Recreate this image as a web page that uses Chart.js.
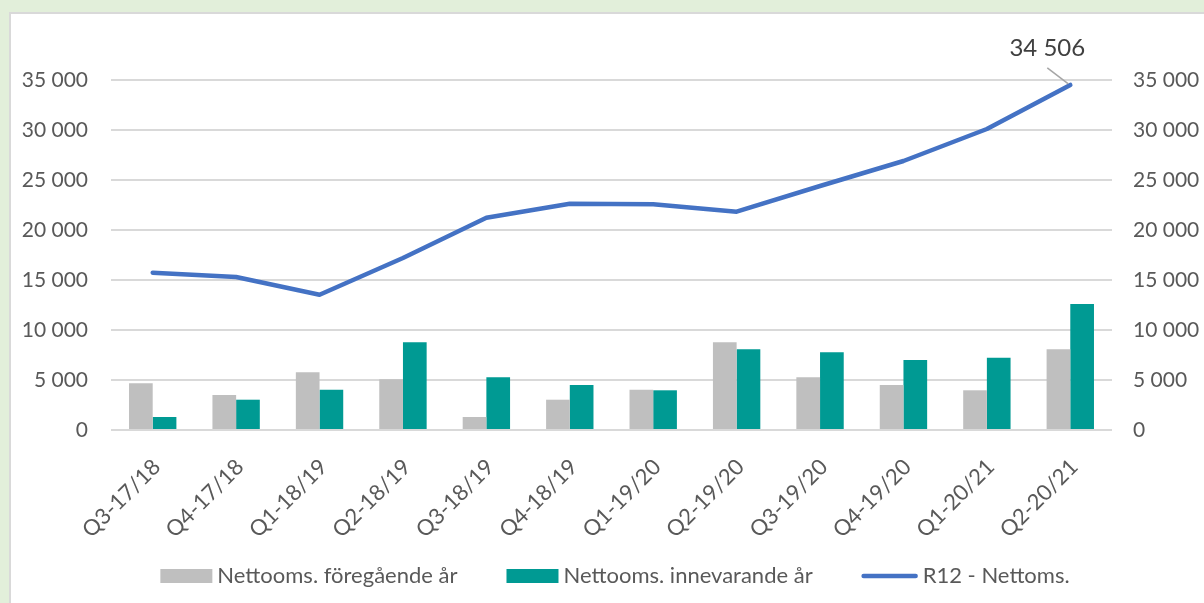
<!DOCTYPE html>
<html>
<head>
<meta charset="utf-8">
<script src="https://cdn.jsdelivr.net/npm/chart.js@4/dist/chart.umd.min.js"></script>
<style>
  html, body { margin: 0; padding: 0; background: #e2efda; width: 1204px; height: 603px; overflow: hidden; }
  #panel { position: absolute; left: 9px; top: 12px; right: 0; bottom: 0; background: #fff;
           border-left: 2px solid #d9d9d9; border-top: 2px solid #d9d9d9; }
  #wrap { position: absolute; left: 0; top: 0; width: 1204px; height: 603px; }
</style>
</head>
<body>
<div id="panel"></div>
<div id="wrap"><canvas id="c"></canvas></div>
<script>
const categories = ['Q3-17/18','Q4-17/18','Q1-18/19','Q2-18/19','Q3-18/19','Q4-18/19','Q1-19/20','Q2-19/20','Q3-19/20','Q4-19/20','Q1-20/21','Q2-20/21'];
const prevYear = [4670, 3500, 5770, 5070, 1300, 3030, 4030, 8770, 5270, 4500, 3970, 8070];
const currYear = [1300, 3030, 4030, 8770, 5270, 4500, 3970, 8070, 7770, 7000, 7230, 12600];
const r12 = [15730, 15300, 13530, 17200, 21230, 22630, 22570, 21830, 24400, 26900, 30100, 34506];
const seriesNames = ['Nettooms. föregående år', 'Nettooms. innevarande år', 'R12 - Nettoms.'];
const yTicks = [0, 5000, 10000, 15000, 20000, 25000, 30000, 35000];

const FONT = 'Lato';
const TXT = '#595959';
function fmt(v) { return String(Math.round(v)).replace(/\B(?=(\d{3})+(?!\d))/g, ' '); }

const lastLabel = {
  id: 'lastLabel',
  afterDatasetsDraw(chart) {
    const meta = chart.getDatasetMeta(2);
    const pt = meta.data[meta.data.length - 1];
    const ctx = chart.ctx;
    const x = pt.x, y = pt.y;
    ctx.save();
    ctx.strokeStyle = '#a6a6a6';
    ctx.lineWidth = 1.5;
    ctx.beginPath();
    ctx.moveTo(x - 23, y - 17);
    ctx.lineTo(x - 2, y - 1);
    ctx.stroke();
    ctx.fillStyle = '#404040';
    ctx.font = '24px ' + FONT;
    ctx.textAlign = 'center';
    ctx.textBaseline = 'middle';
    ctx.fillText(fmt(r12[r12.length - 1]), x - 23, y - 37);
    ctx.restore();
  }
};

// legend drawn from the chart's own datasets
const bottomLegend = {
  id: 'bottomLegend',
  afterDraw(chart) {
    const ctx = chart.ctx;
    const ds = chart.data.datasets;
    const cy = 576, centerX = 615;
    const markerW = [52, 52, 56], gapText = 5, gapItem = 49;
    ctx.save();
    ctx.font = '22px ' + FONT;
    const widths = ds.map(d => ctx.measureText(d.label).width);
    let total = 0;
    ds.forEach((d, i) => { total += markerW[i] + gapText + widths[i] + (i < ds.length - 1 ? gapItem : 0); });
    let x = centerX - total / 2;
    ds.forEach((d, i) => {
      if (d.type === 'line') {
        ctx.strokeStyle = d.borderColor;
        ctx.lineWidth = d.borderWidth;
        ctx.lineCap = 'round';
        ctx.beginPath();
        ctx.moveTo(x + 2, cy);
        ctx.lineTo(x + markerW[i] - 2, cy);
        ctx.stroke();
      } else {
        ctx.fillStyle = d.backgroundColor;
        ctx.fillRect(x, cy - 7, markerW[i], 14);
      }
      x += markerW[i] + gapText;
      ctx.fillStyle = TXT;
      ctx.textAlign = 'left';
      ctx.textBaseline = 'middle';
      ctx.fillText(d.label, x, cy);
      x += widths[i] + gapItem;
    });
    ctx.restore();
  }
};

new Chart(document.getElementById('c'), {
  type: 'bar',
  data: {
    labels: categories,
    datasets: [
      { label: seriesNames[0], data: prevYear, backgroundColor: '#bfbfbf', borderWidth: 0,
        categoryPercentage: 0.568, barPercentage: 1, yAxisID: 'y' },
      { label: seriesNames[1], data: currYear, backgroundColor: '#009a93', borderWidth: 0,
        categoryPercentage: 0.568, barPercentage: 1, yAxisID: 'y' },
      { type: 'line', label: seriesNames[2], data: r12, borderColor: '#4472c4', backgroundColor: '#4472c4',
        borderWidth: 4.5, pointRadius: 0, tension: 0, borderCapStyle: 'round', borderJoinStyle: 'round',
        yAxisID: 'y2' }
    ]
  },
  options: {
    responsive: true,
    maintainAspectRatio: false,
    animation: false,
    layout: { padding: { top: 80, left: 0, right: 0, bottom: 63 } },
    plugins: {
      tooltip: { enabled: false },
      legend: { display: false }
    },
    scales: {
      x: {
        clip: false,
        grid: { display: false },
        border: { display: false },
        ticks: { color: TXT, font: { family: FONT, size: 22 }, minRotation: 45, maxRotation: 45,
                 autoSkip: false, padding: 16, labelOffset: 4 },
        afterFit(s) { s.height = 110; }
      },
      y: {
        clip: false,
        position: 'left',
        min: 0, max: 35000,
        afterBuildTicks(s) { s.ticks = yTicks.map(v => ({ value: v })); },
        grid: { color: '#d9d9d9', lineWidth: 2, drawTicks: false },
        border: { display: false },
        ticks: { color: TXT, font: { family: FONT, size: 21 }, padding: 23, callback: v => fmt(v) },
        afterFit(s) { s.width = 111; }
      },
      y2: {
        clip: false,
        position: 'right',
        min: 0, max: 35000,
        afterBuildTicks(s) { s.ticks = yTicks.map(v => ({ value: v })); },
        grid: { display: false, drawTicks: false },
        border: { display: false },
        ticks: { color: TXT, font: { family: FONT, size: 21 }, padding: 21, callback: v => fmt(v) },
        afterFit(s) { s.width = 92; }
      }
    }
  },
  plugins: [lastLabel, bottomLegend]
});
</script>
</body>
</html>
